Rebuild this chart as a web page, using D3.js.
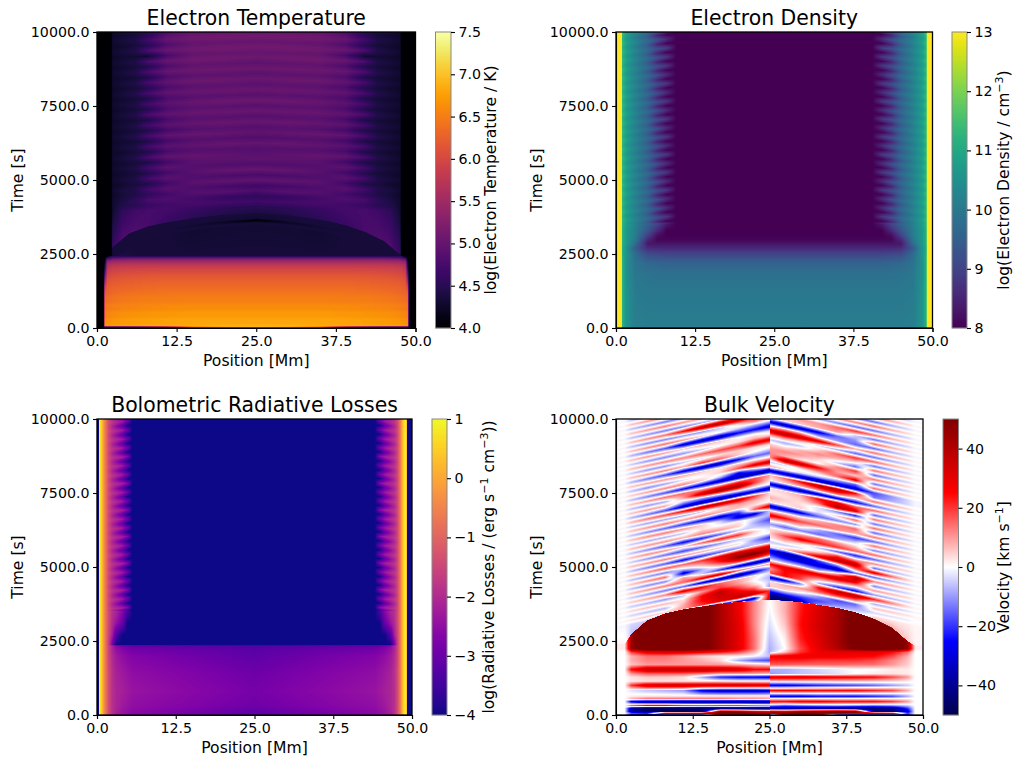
<!DOCTYPE html>
<html><head><meta charset="utf-8"><script src="https://cdn.jsdelivr.net/npm/d3@7"></script>
<style>html,body{margin:0;padding:0;background:#fff}svg{display:block}text{font-family:"DejaVu Sans",sans-serif;fill:#000}</style></head>
<body><svg id="fig" width="1014" height="757"></svg>
<script>
// ---------- tick labels ----------
const positionTicks = [0, 12.5, 25, 37.5, 50];
const timeTicks = [0, 2500, 5000, 7500, 10000];
const tempBarTicks = [4, 4.5, 5, 5.5, 6, 6.5, 7, 7.5];
const densBarTicks = [8, 9, 10, 11, 12, 13];
const lossBarTicks = [-4, -3, -2, -1, 0, 1];
const velBarTicks = [-40, -20, 0, 20, 40];

// ---------- loop-top dome: how much earlier (s) the front arrives at each position (Mm) ----------
const domePositions = [1.4, 2.5, 5, 8, 11, 14, 17, 20, 22.5, 25, 27.5, 30, 33, 36, 39, 42, 45, 47.5, 48.7];
const domeLead = [1500, 1150, 700, 460, 320, 225, 130, 65, 35, 0, 30, 80, 170, 270, 420, 640, 950, 1400, 1550];

// ---------- electron temperature, log K (left half; right half mirrored) ----------
const tempPositions = [1.05, 1.2, 1.6, 2.2, 2.45, 4, 6, 8, 11, 15, 20, 25];
const tempTimes = [0, 45, 60, 150, 280, 400, 520, 640, 760, 900, 1050, 1200, 1400, 1600, 1800, 2000, 2130, 2250, 2330, 2380, 2425, 2445,
  3450, 3550, 3650, 3700, 3880, 3905,
  4100, 4280, 4460, 4640, 4820, 5000, 5180, 5360, 5540, 5720, 5900, 6080, 6260, 6440, 6620, 6800, 6980, 7160, 7340, 7520, 7700, 7880, 8060, 8240, 8420, 8600, 8780, 8960, 9140, 9320, 9500, 9680, 9860, 10040, 10220, 10400];
const tempDrops = tempTimes.map(t => t >= 4100 ? 200 : 0);
const tempDomes = tempTimes.map(t => t >= 3450 && t <= 3905 ? 1 : 0);
const tempValues = [
[4,4.5,4.5,4.5,4.5,4.5,4.6,4.8,5.2,6.5,6.85,6.9],
[4,4.5,4.5,4.5,4.5,4.5,4.6,4.8,5.2,6.5,6.85,6.9],
[4,6.7,6.72,6.74,6.75,6.78,6.8,6.82,6.84,6.86,6.88,6.9],
[4,6.62,6.66,6.68,6.7,6.72,6.74,6.76,6.78,6.8,6.82,6.82],
[4,6.6,6.64,6.66,6.68,6.72,6.74,6.76,6.78,6.8,6.8,6.8],
[4,6.5,6.55,6.58,6.6,6.64,6.66,6.68,6.7,6.72,6.72,6.72],
[4,6.52,6.56,6.58,6.6,6.64,6.66,6.68,6.7,6.72,6.72,6.72],
[4,6.42,6.46,6.48,6.5,6.54,6.56,6.58,6.6,6.62,6.62,6.62],
[4,6.44,6.48,6.5,6.52,6.54,6.56,6.58,6.6,6.6,6.6,6.6],
[4,6.34,6.38,6.4,6.42,6.46,6.48,6.5,6.5,6.52,6.52,6.52],
[4,6.32,6.36,6.38,6.4,6.44,6.46,6.48,6.48,6.5,6.5,6.5],
[4,6.2,6.28,6.3,6.32,6.36,6.38,6.4,6.42,6.42,6.42,6.42],
[4,5.9,6.22,6.24,6.26,6.28,6.3,6.32,6.33,6.33,6.33,6.33],
[4,5.4,6.1,6.14,6.16,6.2,6.22,6.24,6.25,6.25,6.25,6.25],
[4,4.9,5.95,6.02,6.04,6.08,6.1,6.12,6.13,6.13,6.13,6.13],
[4,4.5,5.75,5.85,5.88,5.92,5.93,5.94,5.95,5.95,5.95,5.95],
[4,4.3,5.6,5.7,5.72,5.76,5.78,5.78,5.78,5.78,5.78,5.78],
[4,4.1,5.3,5.4,5.45,5.48,5.5,5.5,5.5,5.5,5.5,5.5],
[4,4,4.9,5.0,5.1,5.15,5.18,5.18,5.18,5.18,5.18,5.18],
[4,4,4.4,4.7,4.75,4.82,4.85,4.85,4.85,4.85,4.85,4.85],
[4,4,4,4.4,4.5,4.5,4.45,4.45,4.45,4.45,4.45,4.45],
[4,4,4,4.1,4.5,4.4,4.35,4.35,4.35,4.35,4.35,4.35],
[4,4,4,4,4.35,4.35,4.35,4.35,4.35,4.3,4.32,4.32],
[4,4,4,4,4.35,4.35,4.35,4.35,4.35,4.35,4.35,4.35],
[4,4,4,4,4.35,4.35,4.35,4.35,4.35,4.3,4.22,4.02],
[4,4,4,4,4.35,4.35,4.35,4.35,4.35,4.35,4.33,4.3],
[4,4,4,4,4.35,4.35,4.35,4.35,4.35,4.35,4.35,4.35],
[4,4,4,4,4.6,4.8,4.8,4.75,4.62,4.52,4.45,4.42],
[4,4,4,4,4.3,4.55,4.7,4.75,4.72,4.62,4.52,4.5],
[4,4,4,4,4.3,4.45,4.5,4.62,4.7,4.75,4.72,4.68],
[4,4,4,4,4.3,4.4,4.55,4.75,4.82,4.72,4.6,4.55],
[4,4,4,4,4.25,4.35,4.42,4.55,4.72,4.85,4.88,4.8],
[4,4,4,4,4.3,4.38,4.45,4.7,4.88,4.8,4.72,4.68],
[4,4,4,4,4.25,4.3,4.38,4.42,4.7,4.9,4.95,4.95],
[4,4,4,4,4.3,4.35,4.42,4.72,4.9,4.82,4.78,4.75],
[4,4,4,4,4.25,4.3,4.35,4.45,4.72,4.88,4.98,5],
[4,4,4,4,4.3,4.35,4.42,4.72,4.92,4.86,4.82,4.82],
[4,4,4,4,4.25,4.3,4.35,4.4,4.7,4.9,4.92,4.95],
[4,4,4,4,4.3,4.36,4.45,4.75,4.95,4.98,4.95,4.88],
[4,4,4,4,4.25,4.3,4.35,4.42,4.75,4.85,4.85,4.85],
[4,4,4,4,4.3,4.35,4.42,4.72,4.9,4.95,5,4.98],
[4,4,4,4,4.25,4.3,4.34,4.4,4.72,4.85,4.85,4.82],
[4,4,4,4,4.3,4.36,4.45,4.75,4.95,5,4.98,4.95],
[4,4,4,4,4.25,4.3,4.35,4.42,4.72,4.85,4.88,4.85],
[4,4,4,4,4.3,4.35,4.42,4.72,4.92,4.98,5.02,5],
[4,4,4,4,4.25,4.3,4.34,4.4,4.75,4.88,4.88,4.85],
[4,4,4,4,4.3,4.36,4.45,4.78,4.95,5,5.02,5.02],
[4,4,4,4,4.25,4.3,4.35,4.45,4.78,4.9,4.9,4.88],
[4,4,4,4,4.3,4.35,4.42,4.72,4.92,5,5.05,5.05],
[4,4,4,4,4.25,4.3,4.34,4.42,4.78,4.88,4.9,4.88],
[4,4,4,4,4.3,4.36,4.45,4.75,4.95,5,5.02,5.02],
[4,4,4,4,4.25,4.3,4.35,4.45,4.78,4.9,4.92,4.9],
[4,4,4,4,4.3,4.35,4.42,4.75,4.95,5.05,5.05,5.02],
[4,4,4,4,4.25,4.3,4.34,4.42,4.8,4.92,4.92,4.9],
[4,4,4,4,4.3,4.36,4.45,4.78,5,5.05,5.05,5.05],
[4,4,4,4,4.25,4.3,4.35,4.45,4.8,4.95,4.95,4.92],
[4,4,4,4,4.3,4.35,4.42,4.78,5,5.08,5.08,5.05],
[4,4,4,4,4.25,4.3,4.32,4.28,4.75,4.98,5,5],
[4,4,4,4,4.3,4.36,4.45,4.8,5.02,5.08,5.1,5.1],
[4,4,4,4,4.25,4.3,4.35,4.48,4.82,4.98,5,5],
[4,4,4,4,4.3,4.36,4.42,4.7,5,5.08,5.1,5.1],
[4,4,4,4,4.25,4.3,4.35,4.5,4.85,5,5,5],
[4,4,4,4,4.3,4.36,4.45,4.6,4.95,5.05,5.08,5.08],
[4,4,4,4,4.25,4.3,4.35,4.5,4.85,5,5,5]];

// ---------- electron density, log cm^-3 (left half; right half mirrored) ----------
const densPositions = [0.85, 1, 1.6, 3, 5, 6.5, 8, 9.5, 25];
const densTimes = [0, 40, 500, 1200, 1800, 2200, 2400, 2550, 2700, 2850, 3000, 3150, 3300, 3500,
  3650, 3800, 3950, 4100, 4250, 4400, 4550, 4700, 4850, 5000, 5150, 5300, 5450, 5600, 5750, 5900, 6050, 6200, 6350, 6500, 6650, 6800, 6950, 7100, 7250, 7400, 7550, 7700, 7850, 8000, 8150, 8300, 8450, 8600, 8750, 8900, 9050, 9200, 9350, 9500, 9650, 9800, 9950, 10100, 10250, 10400];
const densDrops = densTimes.map(t => t >= 3650 ? 500 : 0);
const densTrough = [13,11.2,10.7,10.1,9.4,8.5,8,8,8];
const densCrest = [13,11.4,10.9,10.3,9.7,9.2,8.6,8,8];
const densLong = [13,11.4,10.9,10.3,9.7,9.2,8.8,8,8];
const densValues = [
[13,11.2,10.6,10.1,10,10,10,10,10.02],[13,11.2,10.6,10.15,10.1,10.1,10.1,10.1,10.1],[13,11.2,10.6,10.1,10.05,10.05,10.05,10.05,10.05],
[13,11.2,10.6,10.05,10,10,10,10,10],[13,11.2,10.5,10,9.9,9.85,9.85,9.85,9.85],[13,11.2,10.5,9.9,9.65,9.6,9.55,9.55,9.55],
[13,11.2,10.6,9.8,9.3,9.25,9.2,9.2,9.2],[13,11.1,10.6,9.7,9,8.95,8.9,8.9,8.9],[13,11.1,10.6,9.4,8.6,8.55,8.55,8.55,8.55],
[13,11.2,10.7,9.8,8.3,8.25,8.25,8.25,8.25],[13,11.2,10.7,10,8.6,8.05,8.05,8.05,8.05],[13,11.2,10.7,10.1,9,8.2,8,8,8],
[13,11.2,10.7,10.1,9.3,8.6,8,8,8],[13,11.3,10.8,10.2,9.5,9,8.3,8,8],
densTrough,densCrest,densTrough,densLong,densTrough,densCrest,densTrough,densCrest,densTrough,densLong,densTrough,densCrest,
densTrough,densLong,densTrough,densCrest,densTrough,densLong,densTrough,densCrest,densTrough,densLong,densTrough,densCrest,
densTrough,densLong,densTrough,densCrest,densTrough,densLong,densTrough,densCrest,densTrough,densLong,densTrough,densCrest,
densTrough,densLong,densTrough,densLong,densTrough,[13,11.4,10.9,10.3,9.7,9.2,8.9,8,8],densTrough,densCrest,densTrough,densCrest];

// ---------- bolometric radiative losses, log erg/s/cm^3 (fringe columns; same table for both foot-points) ----------
const lossPositionsLeft  = [0.28, 0.35, 0.7, 1.2, 1.8, 2.4, 3, 4, 4.8, 5.6, 25];
const lossPositionsRight = [49.2, 49.1, 48.6, 48.2, 47.7, 47.2, 46.6, 45.7, 44.9, 44.1, 25];
const lossTimes = [0, 40, 300, 800, 1400, 2000, 2250, 2340, 2375, 2700, 3100, 3500,
  3650, 3800, 3950, 4100, 4250, 4400, 4550, 4700, 4850, 5000, 5150, 5300, 5450, 5600, 5750, 5900, 6050, 6200, 6350, 6500, 6650, 6800, 6950, 7100, 7250, 7400, 7550, 7700, 7850, 8000, 8150, 8300, 8450, 8600, 8750, 8900, 9050, 9200, 9350, 9500, 9650, 9800, 9950, 10100, 10250, 10400];
const lossDrops = lossTimes.map(t => t >= 3650 ? 400 : 0);
const lossCrest = [-4,1,.5,-.5,-1.4,-1.8,-2,-2.3,-2.9,-4,-4];
const lossTrough = [-4,1,.5,-.5,-1.5,-2.1,-2.5,-3.1,-4,-4,-4];
const lossLong = [-4,1,.5,-.5,-1.4,-1.8,-2,-2.2,-2.6,-4,-4];
const lossValues = [
[-4,1,.5,-.5,-1.4,-1.9,-2.2,-2.4,-2.5,-2.6,-3.1],[-4,1,.5,-.5,-1.4,-1.9,-2.2,-2.4,-2.5,-2.6,-3.2],[-4,1,.5,-.5,-1.4,-1.9,-2.1,-2.3,-2.4,-2.5,-2.95],
[-4,1,.5,-.5,-1.4,-1.9,-2.1,-2.2,-2.3,-2.4,-2.85],[-4,1,.5,-.5,-1.4,-1.9,-2.15,-2.3,-2.4,-2.5,-2.95],[-4,1,.5,-.5,-1.5,-2,-2.3,-2.5,-2.6,-2.7,-3.15],
[-4,1,.5,-.5,-1.5,-2.1,-2.5,-2.7,-2.85,-2.95,-3.25],[-4,1,.5,-.5,-1.5,-2.1,-2.6,-2.9,-3,-3.1,-3.35],[-4,1,.5,-.5,-1.6,-2.8,-4,-4,-4,-4,-4],
[-4,1,.5,-.5,-1.5,-2.2,-3.3,-4,-4,-4,-4],[-4,1,.5,-.5,-1.4,-2,-2.4,-3,-4,-4,-4],[-4,1,.5,-.5,-1.4,-1.9,-2.1,-2.6,-3.4,-4,-4],
lossCrest,lossTrough,lossLong,lossTrough,lossCrest,lossTrough,lossLong,lossTrough,lossCrest,lossTrough,lossCrest,lossTrough,
lossLong,lossTrough,lossCrest,lossTrough,lossCrest,lossTrough,lossLong,lossTrough,lossCrest,lossTrough,lossCrest,lossTrough,
lossLong,lossTrough,lossCrest,lossTrough,lossCrest,lossTrough,lossLong,lossTrough,lossCrest,lossTrough,lossCrest,lossTrough,
lossLong,lossTrough,lossCrest,lossTrough,lossCrest,lossTrough,lossCrest,lossTrough,lossCrest,lossTrough];

// ---------- bulk velocity, km/s (crests traced through the panel) ----------
const velPositions = [1.4, 2.5, 5, 8, 11, 14, 17, 20, 22.5, 24.99, 25.01, 27.5, 30, 33, 36, 39, 42, 45, 47.5, 48.7];
const velTimes = [0, 60, 120, 225, 320, 450, 540, 630, 825, 1000, 1140, 1280, 1390, 1540, 1700, 1840, 1990, 2130,
  2240, 2600, 3100, 3500, 3885, 3895,
  4050, 4200, 4350, 4500, 4650, 4800, 4950, 5100, 5250, 5400, 5550, 5700, 5850, 6000, 6150, 6300, 6450, 6600, 6750, 6900, 7050, 7200, 7350, 7500, 7650, 7800, 7950, 8100, 8250, 8400, 8550, 8700, 8850, 9000, 9150, 9300, 9450, 9600, 9750, 9900, 10050, 10200, 10350, 10500, 10650, 10800, 10950, 11100];
const velDrops = velTimes.map(t => t >= 4050 ? 1100 : 0);
const velDomes = [0,0,0,0,0,0,0,0,0,0,0,0,0,0,0,0,0,0, 0,0.2,0.6,0.85,1,1,
  0,0,0,0,0,0,0,0,0,0,0,0,0,0,0,0,0,0,0,0,0,0,0,0,0,0,0,0,0,0,0,0,0,0,0,0,0,0,0,0,0,0,0,0,0,0,0,0];
const velValues = [
[0,-30,-40,-45,-45,-40,30,45,45,40, -40,45,40,35,-40,-45,-45,-40,-25,0],
[0,-15,-20,50,50,50,55,55,50,45, 50,50,55,50,50,45,50,45,-20,0],
[0,-40,-50,-50,-50,-45,45,40,30,25, 35,30,40,45,50,45,-40,-45,-30,0],
[0,-35,-45,-45,-45,-45,-45,-45,-45,-45, -40,-40,-42,-42,-45,-45,-45,-40,-20,0],
[0,15,25,25,20,18,20,20,15,12, -10,-15,-12,-10,-8,-10,-12,-10,-5,0],
[0,-30,-45,-45,-48,-48,-48,-48,-48,-45, 25,25,28,28,25,25,25,20,10,0],
[0,8,15,15,15,15,15,12,12,10, 5,5,6,5,5,5,5,3,2,0],
[0,2,3,3,3,3,3,3,3,3, -28,-28,-28,-25,-25,-25,-22,-18,-8,0],
[0,-3,-6,-8,-10,-28,-32,-32,-32,-30, 25,26,26,25,25,25,22,18,8,0],
[0,20,34,36,36,36,36,36,35,34, -28,-28,-25,-22,-20,-18,-15,-10,-5,0],
[0,2,3,3,3,3,3,2,2,2, 5,5,5,5,6,6,5,4,2,0],
[0,3,5,5,3,-8,-22,-26,-26,-28, 32,32,32,30,28,26,25,18,10,0],
[0,10,15,15,15,12,8,8,8,6, -10,-8,-6,-5,-3,0,2,3,2,0],
[0,25,36,38,38,38,36,34,25,25, -8,-8,-6,-4,-2,0,0,2,2,0],
[0,6,10,10,10,10,10,8,6,4, 16,16,15,15,15,14,14,10,5,0],
[0,8,12,12,10,8,4,-8,-15,-18, 22,22,22,20,20,20,18,12,6,0],
[0,8,14,14,10,5,2,2,0,-6, 26,28,28,28,28,26,25,18,8,0],
[0,20,30,32,32,28,25,18,8,-8, -8,5,20,28,30,30,30,25,15,0],
[2,45,60,60,60,55,42,30,14,-8, -8,0,18,30,40,52,60,60,45,2],
[2,45,60,60,60,55,42,30,14,-6, -6,2,22,32,42,55,60,60,45,2],
[2,45,60,60,60,55,42,30,12,-3, -3,6,24,34,42,55,60,60,45,2],
[2,45,60,60,60,55,42,28,12,-1, -1,8,23,33,42,55,60,60,45,2],
[2,45,60,60,60,55,42,28,12,0, 0,8,22,32,42,55,60,60,45,2],
[1,-6,-6,5,-5,-8,-25,-38,-10,30, -45,-45,-35,-15,-8,-5,5,8,5,1],
[-1,-4,-5,-5,-5,-6,-15,-30,-30,28, -42,-45,-30,-12,-6,-3,4,3,2,1],
[1,3,5,5,10,20,30,38,35,20, -20,-18,-20,-18,-12,-8,-4,-3,-2,0],
[-1,-4,-6,-7,8,25,35,30,20,-10, 5,5,0,-10,-18,-15,6,5,3,1],
[1,4,6,7,3,25,38,20,5,-5, 3,8,10,15,18,15,-8,-6,-3,-1],
[-1,-5,-7,-10,-5,10,20,10,0,-8, -32,-28,-12,25,38,38,22,12,4,1],
[1,5,8,12,30,25,15,8,3,-3, 18,25,18,-8,-20,-25,-10,-7,-4,-1],
[-1,-5,-9,-13,-15,-28,-35,-38,-30,-12, 10,25,22,12,8,3,10,7,4,1],
[1,6,10,13,15,28,32,15,8,10, 25,28,30,30,35,28,-12,-7,-4,-1],
[-1,-6,-11,-12,10,-5,-20,-30,-35,-35, -3,-5,-5,-10,8,40,12,8,4,1],
[1,6,11,15,-30,-8,8,20,20,15, -18,-25,-28,-30,-35,-15,-15,-8,-4,-1],
[-1,-6,-10,-13,-3,8,25,48,52,40, -30,-38,-35,-20,-8,15,30,14,5,1],
[1,6,11,16,15,20,30,35,30,30, 2,5,15,30,38,38,-15,-8,-4,-1],
[-1,-6,-12,-16,-25,-20,-15,-10,-5,-8, -5,-5,-3,5,20,10,12,7,4,1],
[1,6,10,13,10,8,5,3,-10,-20, 3,8,3,-5,-15,-22,-15,-8,-4,-1],
[-1,-5,-10,-14,-18,-15,-10,-5,0,0, 5,18,28,22,20,15,15,8,4,1],
[1,6,11,11,5,15,22,20,5,-3, 3,5,10,15,10,5,-12,-8,-4,-1],
[-1,-6,-11,-16,-25,-22,-15,-5,-5,-10, -10,-15,-12,-15,-10,-5,14,8,4,1],
[1,6,10,11,8,12,10,5,-8,-18, 5,3,5,-8,-15,-20,-15,-8,-4,-1],
[-1,-5,-8,-8,-5,3,0,2,-3,-8, 30,25,18,15,12,8,14,8,4,1],
[1,6,11,13,10,5,-5,-30,-30,-5, 3,5,3,8,12,15,-15,-8,-4,-1],
[-1,-6,-11,-15,-20,-25,-30,-20,15,32, -35,-32,-28,-15,-12,-10,15,8,4,1],
[1,6,10,13,10,12,8,5,3,0, 3,2,5,-3,5,15,-14,-8,-4,-1],
[-1,-5,-9,-9,-8,-5,3,10,8,3, 8,5,3,-3,-12,-22,14,8,4,1],
[1,7,13,17,25,38,35,32,20,5, 2,3,5,15,38,30,-15,-8,-4,-1],
[-1,-7,-13,-18,-30,-35,-38,-35,-30,-35, 3,5,8,25,28,15,15,8,4,1],
[1,6,10,9,-8,-10,-5,0,0,0, -30,-35,-35,-32,-28,-25,-15,-8,-4,-1],
[-1,-6,-10,-8,10,35,45,42,20,5, 3,5,8,12,15,5,14,8,4,1],
[1,6,10,14,15,10,12,18,18,10, 5,15,25,38,40,25,-14,-8,-4,-1],
[-1,-6,-12,-17,-25,-28,-32,-35,-38,-40, -32,-35,-35,-38,-35,-30,-18,-10,-4,-1],
[1,5,9,12,12,5,-5,-25,-10,5, 8,3,-3,-5,-10,-15,15,8,4,1],
[-1,-6,-11,-9,-3,0,5,18,30,32, -5,-3,3,8,15,28,-14,-8,-4,-1],
[1,6,9,10,8,5,2,5,5,3, 10,38,35,25,10,5,14,8,4,1],
[-1,-7,-13,-18,-28,-35,-35,-25,-15,-15, 12,8,3,0,12,20,-15,-8,-4,-1],
[1,6,10,12,8,20,15,5,0,-3, 10,12,10,5,-5,-15,14,8,4,1],
[-1,-5,-10,-11,-5,-3,3,5,3,5, 5,3,8,12,8,3,-14,-8,-4,-1],
[1,6,10,12,12,15,18,20,30,30, -5,-8,-5,5,15,20,15,8,4,1],
[-1,-5,-10,-12,-10,-5,0,3,8,5, 8,10,5,-3,-8,-15,-14,-8,-4,-1],
[1,6,10,9,5,8,5,0,0,-5, 35,38,35,30,18,8,14,8,4,1],
[-1,-7,-13,-17,-30,-35,-35,-25,-25,-30, 5,10,8,-5,-10,-15,-15,-8,-4,-1],
[1,6,11,14,10,5,0,-5,-8,-8, -30,-35,-32,-28,-15,-10,15,8,4,1],
[-1,-6,-11,-12,-10,-10,-5,5,15,12, 3,5,5,8,10,-5,-14,-8,-4,-1],
[1,6,11,14,25,38,40,35,20,15, 5,5,10,10,15,20,14,8,4,1],
[-1,-6,-10,-13,-12,-8,-5,-3,0,0, 0,-3,-5,-8,-12,-15,-14,-8,-4,-1],
[1,6,10,13,10,8,0,0,0,0, 0,0,0,5,10,12,14,8,4,1],
[-1,-6,-10,-13,-10,0,0,0,0,0, 0,0,0,0,-5,-12,-14,-8,-4,-1],
[1,6,10,13,8,0,0,0,0,0, 0,0,0,0,0,8,14,8,4,1],
[-1,-6,-10,-12,0,0,0,0,0,0, 0,0,0,0,0,0,-14,-8,-4,-1],
[1,6,10,12,0,0,0,0,0,0, 0,0,0,0,0,0,14,8,4,1]];

// ---------- colour scales ----------
const seismicStops = ["#00004d", "#0000ff", "#ffffff", "#ff0000", "#800000"];
const colorTemp = d3.scaleSequential(d3.interpolateInferno).domain([4, 7.5]).clamp(true);
const colorDens = d3.scaleSequential(d3.interpolateViridis).domain([8, 13]).clamp(true);
const colorLoss = d3.scaleSequential(d3.interpolatePlasma).domain([-4, 1]).clamp(true);
const colorVel = d3.scaleLinear().domain([-50, -25, 0, 25, 50]).range(seismicStops).clamp(true);

// mirrored tables become full tables
const mirrorRow = r => r.concat(r.slice(0, -1).reverse());
const mirrorX = (l, r) => l.concat(r.slice(0, -1).reverse());
const noDome = t => t.map(() => 0);

const panels = [
  { title: "Electron Temperature", left: 97, right: 415.5, top: 32, bottom: 328, barL: 435.5, barR: 451, labelX: 496,
    xs: mirrorX(tempPositions, tempPositions.map(x => 50 - x)), times: tempTimes, drops: tempDrops, domes: tempDomes, values: tempValues.map(mirrorRow),
    color: colorTemp, ticks: tempBarTicks, fmt: d3.format(".1f"), label: ["log(Electron Temperature / K)"] },
  { title: "Electron Density", left: 616, right: 932.5, top: 32, bottom: 328, barL: 952, barR: 967, labelX: 1009,
    xs: mirrorX(densPositions, densPositions.map(x => 50 - x)), times: densTimes, drops: densDrops, domes: noDome(densTimes), values: densValues.map(mirrorRow),
    color: colorDens, ticks: densBarTicks, fmt: d3.format("d"), label: ["log(Electron Density / cm", "−3", ")"] },
  { title: "Bolometric Radiative Losses", left: 97, right: 412, top: 419, bottom: 715, barL: 432, barR: 447, labelX: 494,
    xs: mirrorX(lossPositionsLeft, lossPositionsRight), times: lossTimes, drops: lossDrops, domes: noDome(lossTimes), values: lossValues.map(mirrorRow),
    color: colorLoss, ticks: lossBarTicks, fmt: d3.format("d"), label: ["log(Radiative Losses / (erg s", "−1", " cm", "−3", "))"] },
  { title: "Bulk Velocity", left: 616, right: 923, top: 419, bottom: 715, barL: 943, barR: 958.5, labelX: 1009,
    xs: velPositions, times: velTimes, drops: velDrops, domes: velDomes, values: velValues,
    color: colorVel, ticks: velBarTicks, fmt: d3.format("d"), label: ["Velocity [km s", "−1", "]"] }
];

const svg = d3.select("#fig");
const TICK = 14.2, AXIS = 15.6, TITLE = 20.4, SUP = 11;

function paintField(p, x, y) {
  const W = Math.round(p.right - p.left), H = Math.round(p.bottom - p.top);
  const cv = document.createElement("canvas"); cv.width = W; cv.height = H;
  const ctx = cv.getContext("2d"), img = ctx.createImageData(W, H);
  const colIndex = d3.scaleLinear().domain(p.xs).range(d3.range(p.xs.length)).clamp(true);
  const domeAt = d3.scaleLinear().domain(domePositions).range(domeLead).clamp(true);
  const [d0, d1] = d3.extent(p.color.domain());
  const lut = d3.range(1024).map(i => d3.rgb(p.color(d0 + (d1 - d0) * i / 1023)));
  const n = p.times.length, nodes = new Float64Array(n), vals = new Float64Array(n);
  for (let px = 0; px < W; px++) {
    const xv = x.invert(p.left + px + 0.4), ci = colIndex(xv);
    const i0 = Math.min(Math.floor(ci), p.xs.length - 2), f = ci - i0;
    const dx = Math.abs(xv - 25), lead = domeAt(xv);
    let prev = -Infinity;
    for (let r = 0; r < n; r++) {
      const t = Math.max(p.times[r] - p.drops[r] * dx / 25 - p.domes[r] * lead, prev + 0.01);
      nodes[r] = t; prev = t;
      vals[r] = p.values[r][i0] * (1 - f) + p.values[r][i0 + 1] * f;
    }
    let k = 0;
    for (let py = H - 1; py >= 0; py--) {
      const tv = y.invert(p.top + py + 0.5);
      while (k < n - 2 && nodes[k + 1] < tv) k++;
      const g = Math.max(0, Math.min(1, (tv - nodes[k]) / (nodes[k + 1] - nodes[k])));
      const v = vals[k] * (1 - g) + vals[k + 1] * g;
      const c = lut[Math.max(0, Math.min(1023, Math.round((v - d0) / (d1 - d0) * 1023)))];
      const o = (py * W + px) * 4;
      img.data[o] = c.r; img.data[o + 1] = c.g; img.data[o + 2] = c.b; img.data[o + 3] = 255;
    }
  }
  ctx.putImageData(img, 0, 0);
  return cv.toDataURL();
}

function styleAxis(g) {
  g.selectAll("text").attr("font-size", TICK).attr("fill", "#000");
  g.selectAll("line,path").attr("stroke", "#000").attr("stroke-width", 1.1);
}

panels.forEach(p => {
  const x = d3.scaleLinear().domain([0, 50]).range([p.left, p.right]);
  const y = d3.scaleLinear().domain([0, 10000]).range([p.bottom, p.top]);
  svg.append("image").attr("x", p.left).attr("y", p.top).attr("width", Math.round(p.right - p.left)).attr("height", Math.round(p.bottom - p.top))
    .attr("preserveAspectRatio", "none").attr("href", paintField(p, x, y));

  const ax = svg.append("g").attr("transform", `translate(0,${p.bottom})`)
    .call(d3.axisBottom(x).tickValues(positionTicks).tickFormat(d3.format(".1f")).tickSize(4).tickPadding(4));
  styleAxis(ax);
  const ay = svg.append("g").attr("transform", `translate(${p.left},0)`)
    .call(d3.axisLeft(y).tickValues(timeTicks).tickFormat(d3.format(".1f")).tickSize(4).tickPadding(3.5));
  styleAxis(ay);
  svg.append("rect").attr("x", p.left).attr("y", p.top).attr("width", p.right - p.left).attr("height", p.bottom - p.top)
    .attr("fill", "none").attr("stroke", "#000").attr("stroke-width", 1.3);

  svg.append("text").attr("x", (p.left + p.right) / 2).attr("y", p.top - 7).attr("text-anchor", "middle").attr("font-size", TITLE).text(p.title);
  svg.append("text").attr("x", (p.left + p.right) / 2).attr("y", p.bottom + 37.5).attr("text-anchor", "middle").attr("font-size", AXIS).text("Position [Mm]");
  svg.append("text").attr("transform", `translate(${p.left - 74},${(p.top + p.bottom) / 2}) rotate(-90)`).attr("text-anchor", "middle").attr("font-size", AXIS).text("Time [s]");

  // colour bar: one rect per pixel row
  const [d0, d1] = d3.extent(p.color.domain());
  const by = d3.scaleLinear().domain([d0, d1]).range([p.bottom, p.top]);
  const steps = d3.range(p.top, p.bottom);
  svg.append("g").selectAll("rect").data(steps).join("rect")
    .attr("x", p.barL).attr("width", p.barR - p.barL)
    .attr("y", d => d).attr("height", 1.2).attr("fill", d => p.color(by.invert(d + 0.5)));
  svg.append("rect").attr("x", p.barL).attr("y", p.top).attr("width", p.barR - p.barL).attr("height", p.bottom - p.top)
    .attr("fill", "none").attr("stroke", "#888").attr("stroke-width", 1);
  const ac = svg.append("g").attr("transform", `translate(${p.barR},0)`)
    .call(d3.axisRight(by).tickValues(p.ticks).tickFormat(p.fmt).tickSize(4).tickPadding(3.5));
  styleAxis(ac);
  ac.select(".domain").remove();

  const lab = svg.append("text").attr("transform", `translate(${p.labelX},${(p.top + p.bottom) / 2}) rotate(-90)`).attr("text-anchor", "middle").attr("font-size", AXIS);
  p.label.forEach((s, i) => {
    const sup = i % 2 === 1;
    lab.append("tspan").attr("font-size", sup ? SUP : AXIS).attr("dy", i === 0 ? 0 : (sup ? -6.5 : 6.5)).text(s);
  });
});
</script></body></html>
